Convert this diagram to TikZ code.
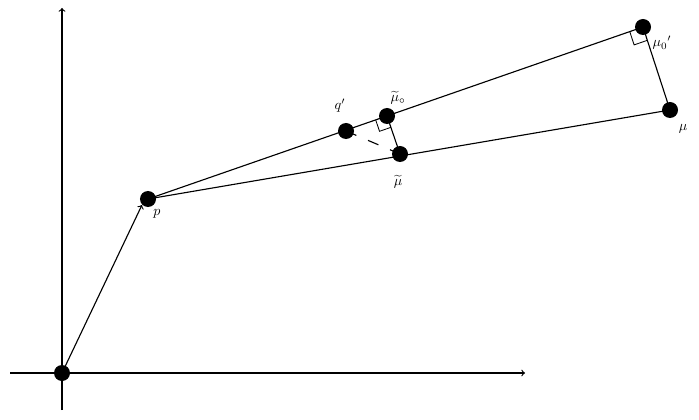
\documentclass[tikz,border=0pt]{standalone}
\usetikzlibrary{calc}
\tikzset{dot/.style={circle,fill=black,inner sep=0pt,minimum size=0.4cm},
  lbl/.style={font=\normalsize,inner sep=1pt}}
\begin{document}
\begin{tikzpicture}[x=0.025cm,y=-0.025cm,thick]
  \useasboundingbox (0,0) rectangle (699,420);
  % axes
  \draw[->] (62,410) -- (62,8);
  \draw[->] (10,373) -- (525,373);

  \node[dot] (o) at (62,373) {};
  \node[dot] (p) at (148,199) {};
  \node[dot] (q) at (346,131) {};
  \node[dot] (mt0) at (387,116) {};
  \node[dot] (mt) at (400,154) {};
  \node[dot] (m0) at (643,27) {};
  \node[dot] (m) at (670,110) {};

  \draw[->] (o.center) -- (p.south west);
  \draw (p.center) -- (m0.center);
  \draw (p.center) -- (m.center);
  \draw (m0.center) -- (m.center);
  \draw (mt0.center) -- (mt.center);
  \draw[dashed,dash pattern=on 8pt off 9pt] (q.center) -- (mt.center);

  % right angles
  \draw[semithick] ($(m0.center)!0.35cm!(p.center)$) -- ($(m0.center)!0.35cm!(p.center) + (m0.center)!0.35cm!(m.center) - (m0.center)$) -- ($(m0.center)!0.35cm!(m.center)$);
  \draw[semithick] ($(mt0.center)!0.3cm!(p.center)$) -- ($(mt0.center)!0.3cm!(p.center) + (mt0.center)!0.3cm!(mt.center) - (mt0.center)$) -- ($(mt0.center)!0.3cm!(mt.center)$);

  \node[lbl] at (157,214) {$p$};
  \node[lbl] at (340,106) {$q'$};
  \node[lbl] at (398,98) {$\widetilde{\mu}_{\circ}$};
  \node[lbl] at (398,182) {$\widetilde{\mu}$};
  \node[lbl] at (662,43) {$\mu_0{}'$};
  \node[lbl] at (683,129) {$\mu$};
\end{tikzpicture}
\end{document}
